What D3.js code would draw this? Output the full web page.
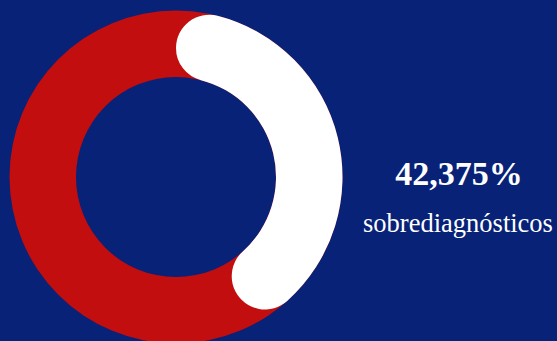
<!DOCTYPE html>
<html>
<head>
<meta charset="utf-8">
<script src="https://cdn.jsdelivr.net/npm/d3@7"></script>
<style>
  html, body { margin: 0; padding: 0; background: #072277; overflow: hidden; }
</style>
</head>
<body>
<script>
// data
let share = [42.375];          // % sobrediagnósticos
let labels = ["sobrediagnósticos"];
let valueText = ["42,375%"];

let width = 557;
let height = 341;

let svg = d3.select('body')
  .append('svg')
  .attr("width", width)
  .attr("height", height);

svg.append("rect")
  .attr("width", width)
  .attr("height", height)
  .attr("fill", "#072277");

let centerX = 176;
let centerY = 177;
let outerR = 166.5;
let innerR = 100;

let angle = d3.scaleLinear().domain([0, 100]).range([0, Math.PI * 2]);

let g = svg.append("g")
  .attr("transform", `translate(${centerX},${centerY})`);

// full red ring underneath
g.append("path")
  .attr("d", d3.arc()
    .innerRadius(innerR)
    .outerRadius(outerR)
    .startAngle(0)
    .endAngle(Math.PI * 2)())
  .attr("fill", "#c20e0e");

// white value arc with rounded ends
g.append("path")
  .attr("d", d3.arc()
    .innerRadius(innerR)
    .outerRadius(outerR)
    .cornerRadius((outerR - innerR) / 2)
    .startAngle(angle(0))
    .endAngle(angle(share[0]))())
  .attr("fill", "#ffffff");

svg.append("text")
  .attr("x", 459)
  .attr("y", 185)
  .attr("text-anchor", "middle")
  .attr("font-family", "'Liberation Serif', 'Times New Roman', serif")
  .attr("font-weight", "bold")
  .attr("font-size", 34)
  .attr("fill", "#ffffff")
  .text(valueText[0]);

svg.append("text")
  .attr("x", 458)
  .attr("y", 232)
  .attr("text-anchor", "middle")
  .attr("font-family", "'Liberation Serif', 'Times New Roman', serif")
  .attr("font-size", 26.5)
  .attr("fill", "#ffffff")
  .text(labels[0]);
</script>
</body>
</html>
